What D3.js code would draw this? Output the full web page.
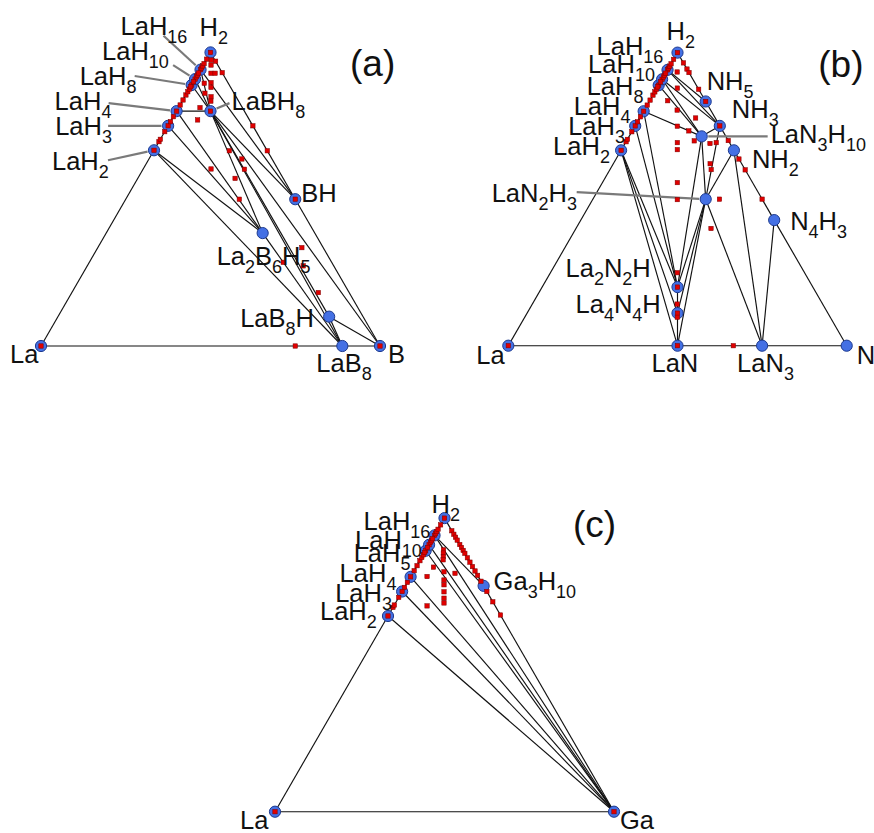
<!DOCTYPE html>
<html>
<head>
<meta charset="utf-8">
<script src="https://cdn.jsdelivr.net/npm/d3@7/dist/d3.min.js"></script>
<style>
  body { margin: 0; background: #fff; }
  svg text { font-family: "Liberation Sans", Arial, sans-serif; fill: #111; }
</style>
</head>
<body>
<svg id="canvas" width="874" height="833"></svg>
<script>
// ternary La-X-H convex hulls. phases: [name, nLa, nX, nH, calculated square?]
var phasesA = [
  ["La", 1, 0, 0, 1], ["LaH2", 1, 0, 2, 1], ["LaH3", 1, 0, 3, 1], ["LaH4", 1, 0, 4, 1],
  ["LaH8", 1, 0, 8, 1], ["LaH10", 1, 0, 10, 1], ["LaH16", 1, 0, 16, 1], ["H2", 0, 0, 1, 1],
  ["LaBH8", 1, 1, 8, 1], ["BH", 0, 1, 1, 1], ["B", 0, 1, 0, 1],
  ["La2B6H5", 2, 6, 5, 0], ["LaB8H", 1, 8, 1, 0], ["LaB8", 1, 8, 0, 0]
];
var phasesB = [
  ["La", 1, 0, 0, 1], ["LaH2", 1, 0, 2, 1], ["LaH3", 1, 0, 3, 1], ["LaH4", 1, 0, 4, 1],
  ["LaH8", 1, 0, 8, 1], ["LaH10", 1, 0, 10, 1], ["LaH16", 1, 0, 16, 1], ["H2", 0, 0, 1, 1],
  ["NH5", 0, 1, 5, 1], ["NH3", 0, 1, 3, 1], ["NH2", 0, 1, 2, 0], ["N4H3", 0, 4, 3, 0],
  ["N", 0, 1, 0, 0], ["LaN3", 1, 3, 0, 0], ["LaN", 1, 1, 0, 1],
  ["La4N4H", 4, 4, 1, 1], ["La2N2H", 2, 2, 1, 1], ["LaN2H3", 1, 2, 3, 0], ["LaN3H10", 1, 3, 10, 0]
];
var phasesC = [
  ["La", 1, 0, 0, 1], ["LaH2", 1, 0, 2, 1], ["LaH3", 1, 0, 3, 1], ["LaH4", 1, 0, 4, 1],
  ["LaH8", 1, 0, 8, 1], ["LaH10", 1, 0, 10, 1], ["LaH16", 1, 0, 16, 1], ["H2", 0, 0, 1, 1],
  ["Ga3H10", 0, 3, 10, 0], ["Ga", 0, 1, 0, 1]
];

// tie lines of the hull
var tiesA = [
  ["La", "LaH2"], ["LaH2", "LaH3"], ["LaH3", "LaH4"], ["LaH4", "LaH8"], ["LaH8", "LaH10"],
  ["LaH10", "LaH16"], ["LaH16", "H2"], ["H2", "BH"], ["BH", "B"], ["La", "LaB8"], ["LaB8", "B"],
  ["LaH2", "LaB8"], ["LaH2", "La2B6H5"], ["LaH3", "La2B6H5"], ["LaH4", "La2B6H5"],
  ["LaH4", "LaBH8"], ["LaH8", "LaBH8"], ["LaH10", "LaBH8"], ["LaH16", "LaBH8"],
  ["LaH16", "BH"], ["LaBH8", "BH"], ["LaBH8", "B"], ["LaBH8", "LaB8H"], ["LaBH8", "LaB8"],
  ["LaBH8", "La2B6H5"], ["La2B6H5", "LaB8"], ["LaB8H", "LaB8"], ["LaB8H", "B"]
];
var tiesB = [
  ["La", "LaH2"], ["LaH2", "LaH3"], ["LaH3", "LaH4"], ["LaH4", "LaH8"], ["LaH8", "LaH10"],
  ["LaH10", "LaH16"], ["LaH16", "H2"], ["H2", "NH5"], ["NH5", "NH3"], ["NH3", "NH2"],
  ["NH2", "N4H3"], ["N4H3", "N"], ["La", "LaN"], ["LaN", "LaN3"], ["LaN3", "N"],
  ["LaH2", "LaN"], ["LaH2", "La4N4H"], ["LaN", "La4N4H"], ["LaH2", "La2N2H"], ["La4N4H", "La2N2H"],
  ["LaH3", "La2N2H"], ["LaH4", "La2N2H"], ["LaH4", "LaN3H10"], ["La2N2H", "LaN3H10"],
  ["LaH8", "LaN3H10"], ["LaH10", "LaN3H10"], ["LaH10", "NH3"], ["LaN3H10", "NH3"],
  ["LaH16", "NH3"], ["LaH16", "NH5"], ["LaN3H10", "LaN2H3"], ["NH3", "LaN2H3"],
  ["NH2", "LaN2H3"], ["La2N2H", "LaN2H3"], ["La4N4H", "LaN2H3"], ["LaN", "LaN2H3"],
  ["LaN2H3", "LaN3"], ["NH2", "LaN3"], ["N4H3", "LaN3"]
];
var tiesC = [
  ["La", "LaH2"], ["LaH2", "LaH3"], ["LaH3", "LaH4"], ["LaH4", "LaH8"], ["LaH8", "LaH10"],
  ["LaH10", "LaH16"], ["LaH16", "H2"], ["H2", "Ga3H10"], ["Ga3H10", "Ga"], ["La", "Ga"],
  ["LaH2", "Ga"], ["LaH3", "Ga"], ["LaH4", "Ga"], ["LaH8", "Ga"], ["LaH10", "Ga"],
  ["LaH16", "Ga"], ["LaH16", "Ga3H10"]
];

// other calculated structures (red squares), fractions [La, X, H]
var laHEdge = [0.696, 0.704, 0.73, 0.764, 0.781, 0.821, 0.838, 0.855, 0.866, 0.875,
  0.883, 0.9, 0.917, 0.923, 0.93, 0.947, 0.954, 0.962, 0.977];
var gaHEdge = [0.043, 0.055, 0.065, 0.075, 0.09, 0.10, 0.11, 0.12, 0.135, 0.15, 0.165,
  0.18, 0.195, 0.215, 0.25, 0.285, 0.33];
var squaresA = [
  [0.011, 0.015, 0.974], [0, 0.03, 0.97], [0.02, 0.023, 0.957], [0.034, 0.037, 0.929],
  [0.022, 0.049, 0.929], [0, 0.069, 0.931], [0.071, 0.034, 0.895], [0.05, 0.053, 0.897],
  [0.058, 0.061, 0.881], [0.086, 0.053, 0.861], [0.074, 0.077, 0.849], [0.082, 0.084, 0.834],
  [0.125, 0.063, 0.812], [0.153, 0.077, 0.77], [0, 0.25, 0.75], [0, 0.335, 0.665],
  [0.112, 0.223, 0.665], [0.089, 0.274, 0.637], [0.099, 0.299, 0.602], [0.197, 0.2, 0.603],
  [0.142, 0.287, 0.571], [0.165, 0.335, 0.5], [0.063, 0.602, 0.335], [0.143, 0.572, 0.285],
  [0.09, 0.637, 0.273], [0.091, 0.727, 0.182], [0.25, 0.75, 0]
];
var squaresB = [
  [0.034, 0.032, 0.934], [0.061, 0.06, 0.879], [0.111, 0.053, 0.836], [0.099, 0.097, 0.804],
  [0.058, 0.165, 0.777], [0.126, 0.125, 0.749], [0.1, 0.167, 0.733], [0.101, 0.2, 0.699],
  [0.154, 0.153, 0.693], [0.166, 0.165, 0.669], [0.059, 0.251, 0.69], [0.039, 0.268, 0.693],
  [0, 0.3, 0.7], [0.093, 0.286, 0.621], [0.1, 0.299, 0.601], [0, 0.363, 0.637], [0, 0.4, 0.6],
  [0.222, 0.221, 0.556], [0.251, 0.25, 0.498], [0.126, 0.374, 0.5], [0, 0.5, 0.5],
  [0.201, 0.399, 0.4], [0.376, 0.375, 0.249], [0.43, 0.428, 0.142], [0.452, 0.451, 0.097],
  [0.335, 0.665, 0], [0, 0.035, 0.965], [0, 0.056, 0.944], [0, 0.068, 0.932], [0, 0.125, 0.875]
];
var squaresC = [
  [0.057, 0.051, 0.892], [0.063, 0.056, 0.881], [0.069, 0.062, 0.869], [0.075, 0.067, 0.858],
  [0.116, 0.051, 0.833], [0.093, 0.09, 0.818], [0.063, 0.125, 0.812], [0.151, 0.048, 0.801],
  [0.107, 0.104, 0.79], [0.115, 0.112, 0.773], [0.127, 0.124, 0.749], [0.138, 0.135, 0.728],
  [0.146, 0.143, 0.711], [0.201, 0.098, 0.701]
];

// label text per phase (digits become subscripts)
var namesC = { "LaH8": "LaH5" };

// ---- layout: label offsets from the phase point, leader starts ----
var labelsA = {
  "LaH16": [-80, -35], "H2": [-11, -16], "LaH10": [-93, -19], "LaH8": [-112, 0],
  "LaH4": [-122, -1], "LaH3": [-113, 9], "LaH2": [-102, 20], "LaBH8": [21, -1],
  "BH": [6, 3], "La2B6H5": [-46, 32], "LaB8H": [-89, 10], "La": [-31, 17],
  "LaB8": [-26, 26], "B": [8, 17]
};
var leadersA = {
  "LaH16": [-37, -34], "LaH10": [-22, -14], "LaH8": [-57, -9], "LaH4": [-68, -8],
  "LaH3": [-60, 0], "LaH2": [-46, 10], "LaBH8": [19, -8]
};
var labelsB = {
  "H2": [-11, -13], "LaH16": [-71, -15], "LaH10": [-74, -6], "LaH8": [-72, 10],
  "LaH4": [-70, 4], "LaH3": [-67, 9], "LaH2": [-68, 5], "NH5": [1, -11], "NH3": [12, -8],
  "LaN3H10": [69, 7], "NH2": [18, 18], "LaN2H3": [-214, 3], "N4H3": [16, 10],
  "La2N2H": [-112, -10], "La4N4H": [-102, 0], "La": [-32, 18], "LaN": [-26, 26],
  "LaN3": [-25, 26], "N": [10, 18]
};
var leadersB = { "LaN3H10": [66, 0], "LaN2H3": [-129, -7] };
var labelsC = {
  "H2": [-13, -5], "LaH16": [-71, -5], "LaH10": [-74, 4], "LaH8": [-72, 11],
  "LaH4": [-71, 5], "LaH3": [-67, 10], "LaH2": [-68, 4], "Ga3H10": [10, 4],
  "La": [-35, 17], "Ga": [6, 17]
};

var panels = [
  { tag: "(a)", left: 41, base: 346, side: 339, tagAt: [309, -270], phases: phasesA, ties: tiesA,
    squares: squaresA, edgeX: [], labels: labelsA, leaders: leadersA, names: {} },
  { tag: "(b)", left: 508.3, base: 345.7, side: 338.4, tagAt: [310, -269], phases: phasesB, ties: tiesB,
    squares: squaresB, edgeX: [], labels: labelsB, leaders: leadersB, names: {} },
  { tag: "(c)", left: 275, base: 811.7, side: 339, tagAt: [298, -275], phases: phasesC, ties: tiesC,
    squares: squaresC, edgeX: gaHEdge, labels: labelsC, leaders: {}, names: namesC }
];

var svg = d3.select("#canvas");
var R = 5.6, SQ = 4.4;

function writeFormula(sel, text, big, small) {
  var shift = 0;
  text.match(/\d+|\D+/g).forEach(function(t) {
    var sub = /\d/.test(t);
    var off = sub ? 8 : 0;
    sel.append("tspan").attr("dy", off - shift)
      .style("font-size", (sub ? small : big) + "px").text(t);
    shift = off;
  });
}

function drawPanel(p) {
  var g = svg.append("g");
  var x = d3.scaleLinear().domain([0, 1]).range([p.left, p.left + p.side]);
  var y = d3.scaleLinear().domain([0, 1]).range([p.base, p.base - p.side * Math.sqrt(3) / 2]);

  // composition (counts or fractions) -> pixel
  function pos(c) {
    var s = c[0] + c[1] + c[2];
    var b = c[1] / s, h = c[2] / s;
    return [x(b + h / 2), y(h)];
  }
  var byName = {};
  p.phases.forEach(function(d) { byName[d[0]] = pos([d[1], d[2], d[3]]); });

  g.selectAll("line.tie").data(p.ties).enter().append("line")
    .attr("class", "tie")
    .attr("x1", function(d) { return byName[d[0]][0]; })
    .attr("y1", function(d) { return byName[d[0]][1]; })
    .attr("x2", function(d) { return byName[d[1]][0]; })
    .attr("y2", function(d) { return byName[d[1]][1]; })
    .attr("stroke", "#111").attr("stroke-width", 1.15);

  // grey leader lines
  var lead = Object.keys(p.leaders);
  g.selectAll("line.lead").data(lead).enter().append("line")
    .attr("x1", function(k) { return byName[k][0] + p.leaders[k][0]; })
    .attr("y1", function(k) { return byName[k][1] + p.leaders[k][1]; })
    .attr("x2", function(k) {
      var o = p.leaders[k], l = Math.hypot(o[0], o[1]);
      return byName[k][0] + o[0] / l * (R + 1);
    })
    .attr("y2", function(k) {
      var o = p.leaders[k], l = Math.hypot(o[0], o[1]);
      return byName[k][1] + o[1] / l * (R + 1);
    })
    .attr("stroke", "#7a7a7a").attr("stroke-width", 2.2);

  g.selectAll("circle").data(p.phases).enter().append("circle")
    .attr("cx", function(d) { return byName[d[0]][0]; })
    .attr("cy", function(d) { return byName[d[0]][1]; })
    .attr("r", R)
    .attr("fill", "#4470e4").attr("stroke", "#1d3a8f").attr("stroke-width", 1);

  // red squares: stable ones with a square, La-H line, X-H line, the rest
  var pts = p.phases.filter(function(d) { return d[4]; }).map(function(d) { return [d[1], d[2], d[3]]; })
    .concat(laHEdge.map(function(h) { return [1 - h, 0, h]; }))
    .concat(p.edgeX.map(function(v) { return [0, v, 1 - v]; }))
    .concat(p.squares);
  g.selectAll("rect").data(pts).enter().append("rect")
    .attr("x", function(d) { return pos(d)[0] - SQ / 2; })
    .attr("y", function(d) { return pos(d)[1] - SQ / 2; })
    .attr("width", SQ).attr("height", SQ)
    .attr("fill", "#e00000").attr("stroke", "#7a0000").attr("stroke-width", 0.5);

  Object.keys(p.labels).forEach(function(k) {
    var t = g.append("text")
      .attr("x", byName[k][0] + p.labels[k][0])
      .attr("y", byName[k][1] + p.labels[k][1]);
    writeFormula(t, p.names[k] || k, 25.5, 18);
  });

  g.append("text")
    .attr("x", p.left + p.tagAt[0]).attr("y", p.base + p.tagAt[1])
    .style("font-size", "37px").text(p.tag);
}

panels.forEach(drawPanel);
</script>
</body>
</html>
